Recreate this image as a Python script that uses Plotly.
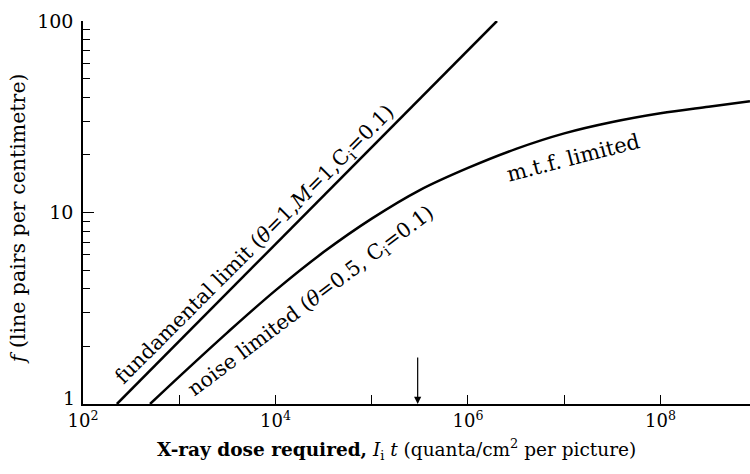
import math
import plotly.graph_objects as go

# ---- data ----
fund_dose = [225, 2.0e6]
fund_f = [1.0, 100.0]

noise_dose = [497, 1e3, 3.16e3, 1e4, 3.16e4, 1e5, 3.16e5, 1e6, 3.16e6,
              1e7, 3.16e7, 1e8, 3.16e8, 8.5e8]
noise_f = [1.0, 1.39, 2.36, 3.92, 6.21, 9.29, 13.1, 17.1, 21.5,
           25.9, 29.7, 33.0, 35.7, 38.1]

arrow_dose = 3.0e5

x_tickvals = [1e2, 1e3, 1e4, 1e5, 1e6, 1e7, 1e8]
x_ticktext = ["10<sup>2</sup>", "", "10<sup>4</sup>", "", "10<sup>6</sup>", "", "10<sup>8</sup>"]
y_tickvals = [1, 10, 100]
y_ticktext = ["", "10", "100"]   # the "1" is drawn separately, lifted clear of 10^2
y_bottom_label = "1"
y_minor = [2, 3, 4, 5, 6, 7, 8, 9, 20, 30, 40, 50, 60, 70, 80, 90]

FONT = "DejaVu Serif"

fig = go.Figure()
fig.add_trace(go.Scatter(x=fund_dose, y=fund_f, mode="lines",
                         line=dict(color="black", width=2.5), showlegend=False))
fig.add_trace(go.Scatter(x=noise_dose, y=noise_f, mode="lines",
                         line=dict(color="black", width=2.5, shape="spline", smoothing=1.0),
                         showlegend=False))

fig.update_layout(
    width=750, height=474,
    margin=dict(l=83, r=0, t=21, b=70),
    paper_bgcolor="white", plot_bgcolor="white",
    font=dict(family=FONT, color="black", size=18),
    xaxis=dict(type="log", range=[2, 8.93], showline=True, linecolor="black", linewidth=1.5,
               ticks="inside", ticklen=9, tickwidth=1.2, tickcolor="black",
               tickvals=x_tickvals, ticktext=x_ticktext, showgrid=False, zeroline=False,
               tickfont=dict(size=18, family=FONT)),
    yaxis=dict(type="log", range=[0, 2], showline=True, linecolor="black", linewidth=1.5,
               ticks="inside", ticklen=11, tickwidth=1.2, tickcolor="black",
               tickvals=y_tickvals, ticktext=y_ticktext, showgrid=False, zeroline=False,
               tickfont=dict(size=19, family=FONT), ticklabelstandoff=4,
               minor=dict(tickvals=y_minor, ticks="inside", ticklen=7, tickwidth=1.2,
                          tickcolor="black", showgrid=False)),
)

ann = []
ann.append(dict(xref="paper", yref="y", x=0, y=0, text=y_bottom_label, showarrow=False,
                xanchor="right", yanchor="middle", xshift=-6, yshift=6,
                font=dict(size=19, family=FONT)))
# axis titles
ann.append(dict(xref="paper", yref="paper", x=0.47, y=-0.12, xanchor="center", yanchor="middle",
                text="<b>X-ray dose required,</b> <i>I</i><sub>i</sub> <i>t</i> (quanta/cm<sup>2</sup> per picture)",
                showarrow=False, font=dict(size=18.5, family=FONT)))
ann.append(dict(xref="paper", yref="paper", x=-0.0975, y=0.485, xanchor="center", yanchor="middle",
                text="<i>f</i> (line pairs per centimetre)", textangle=-90,
                showarrow=False, font=dict(size=20.5, family=FONT)))
# curve labels
ann.append(dict(x=3.786, y=0.83, text="fundamental limit (<i>θ</i>=1,<i>M</i>=1,C<sub>i</sub>=0.1)",
                textangle=-45, showarrow=False, xanchor="center", yanchor="middle",
                font=dict(size=20.5, family=FONT)))
ann.append(dict(x=4.373, y=0.54, text="noise limited (<i>θ</i>=0.5, C<sub>i</sub>=0.1)",
                textangle=-37, showarrow=False, xanchor="center", yanchor="middle",
                font=dict(size=20.5, family=FONT)))
ann.append(dict(x=7.088, y=1.284, text="m.t.f. limited",
                textangle=-14.5, showarrow=False, xanchor="center", yanchor="middle",
                font=dict(size=21, family=FONT)))
# arrow marking a dose on the x axis
ann.append(dict(x=math.log10(arrow_dose), y=0, text="", showarrow=True,
                ax=0, ay=-48, arrowhead=2, arrowsize=1.2, arrowwidth=1.2, arrowcolor="black",
                standoff=0))
fig.update_layout(annotations=ann)

fig.write_html("out.html")
